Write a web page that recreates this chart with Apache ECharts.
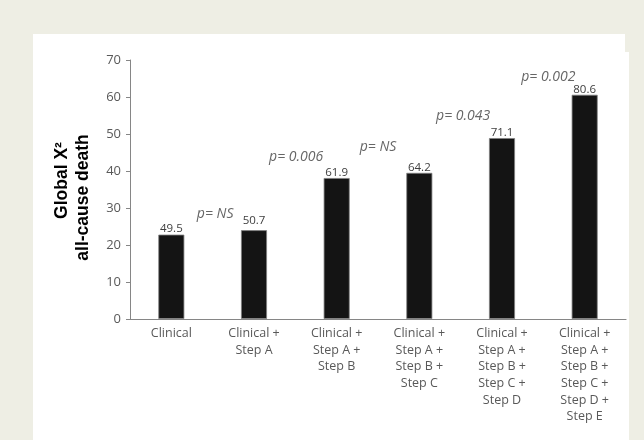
<!DOCTYPE html>
<html><head><meta charset="utf-8">
<script src="https://cdn.jsdelivr.net/npm/echarts@6/dist/echarts.min.js"></script>
<style>html,body{margin:0;padding:0;background:#eeeee4}#c{width:644px;height:440px}</style>
</head><body><div id="c"></div>
<script>
const categories = ['Clinical', 'Clinical +\nStep A', 'Clinical +\nStep A +\nStep B', 'Clinical +\nStep A +\nStep B +\nStep C', 'Clinical +\nStep A +\nStep B +\nStep C +\nStep D', 'Clinical +\nStep A +\nStep B +\nStep C +\nStep D +\nStep E'];
const barHeights = [22.8, 24.0, 38.1, 39.5, 48.9, 60.6];
const barLabels = ['49.5', '50.7', '61.9', '64.2', '71.1', '80.6'];
const pLabels = ['p= NS', 'p= 0.006', 'p= NS', 'p= 0.043', 'p= 0.002'];
const pX = [1.03, 2.01, 3.0, 4.03, 5.06];
const pY = [28.3, 43.8, 46.5, 54.8, 65.4];
const yTicks = [0, 10, 20, 30, 40, 50, 60, 70];

const chart = echarts.init(document.getElementById('c'), null, {renderer: 'canvas'});
const font = 'Open Sans';
chart.setOption({
  backgroundColor: '#eeeee4',
  animation: false,
  graphic: [
    {type: 'rect', z: -10, silent: true, shape: {x: 33, y: 34, width: 592, height: 18}, style: {fill: '#ffffff'}},
    {type: 'rect', z: -10, silent: true, shape: {x: 33, y: 52, width: 596, height: 388}, style: {fill: '#ffffff'}}
  ],
  grid: {left: 130, right: 18, top: 60, bottom: 121, containLabel: false, outerBoundsMode: 'none'},
  xAxis: [
    {
      type: 'category', data: categories, boundaryGap: true,
      axisLine: {lineStyle: {color: '#868686', width: 1.2}},
      axisTick: {show: false},
      axisLabel: {interval: 0, margin: 6, fontFamily: font, fontSize: 12.5, lineHeight: 16.7, color: '#595959'}
    },
    {type: 'value', min: 0, max: 6, show: false}
  ],
  yAxis: {
    type: 'value', min: yTicks[0], max: yTicks[yTicks.length - 1], interval: 10,
    splitLine: {show: false},
    axisLine: {show: true, lineStyle: {color: '#868686', width: 1}},
    axisTick: {show: true, inside: false, length: 4, lineStyle: {color: '#868686'}},
    axisLabel: {margin: 9, fontFamily: font, fontSize: 13, color: '#595959'},
    name: '{a|Global X²}\n{b|all-cause death}',
    nameLocation: 'middle', nameRotate: 90, nameGap: 36,
    nameTextStyle: {
      padding: [0, 16, 0, 0],
      rich: {
        a: {fontFamily: 'Liberation Sans', fontWeight: 'bold', fontSize: 17.5, lineHeight: 21, color: '#000', padding: [0, 0, 0, 34]},
        b: {fontFamily: 'Liberation Sans', fontWeight: 'bold', fontSize: 17.5, lineHeight: 21, color: '#000'}
      }
    }
  },
  series: [
    {
      type: 'bar', barWidth: 26,
      data: barHeights.map((v, i) => i === 1 ? {value: v, label: {distance: 4}} : v),
      itemStyle: {color: '#141414', borderColor: '#808080', borderWidth: 0.8},
      label: {
        show: true, position: 'top', distance: 0,
        fontFamily: font, fontSize: 11.5, lineHeight: 11, color: '#404040',
        formatter: p => barLabels[p.dataIndex]
      }
    },
    {
      type: 'scatter', xAxisIndex: 1, yAxisIndex: 0,
      data: pX.map((x, i) => [x, pY[i]]),
      symbolSize: 1, itemStyle: {color: 'rgba(0,0,0,0)'},
      label: {
        show: true, position: 'inside',
        fontFamily: font, fontStyle: 'italic', fontSize: 14, color: '#404040',
        formatter: p => pLabels[p.dataIndex]
      }
    }
  ]
});
</script>
</body></html>
